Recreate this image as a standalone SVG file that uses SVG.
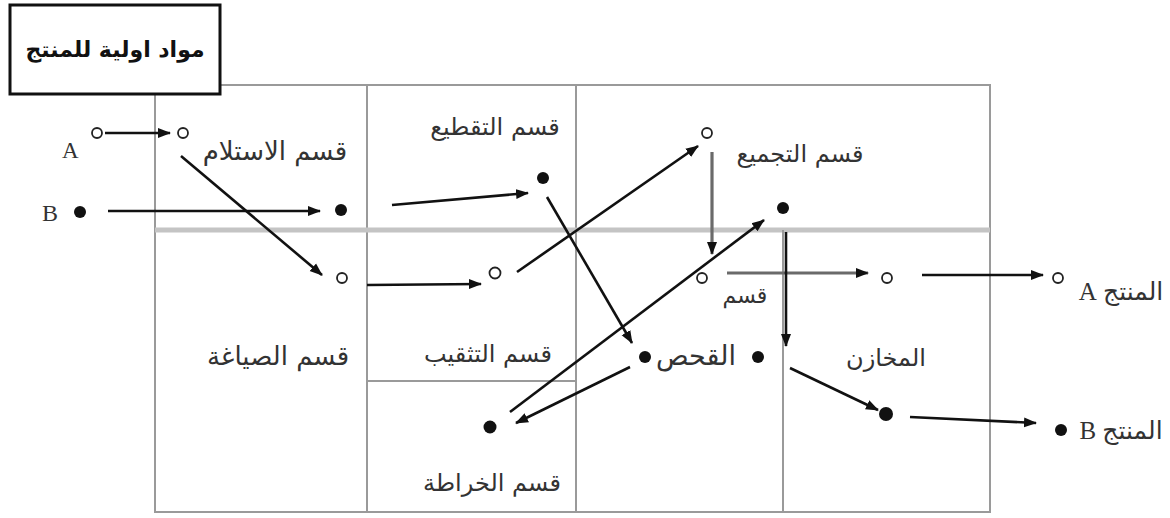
<svg xmlns="http://www.w3.org/2000/svg" width="1170" height="518" viewBox="0 0 1170 518">
<style>
.grid{stroke:#9a9a9a;stroke-width:2;fill:none}
.mid{stroke:#c4c4c4;stroke-width:5;fill:none}
.ar{font-family:"DejaVu Sans",sans-serif;font-size:24px;fill:#333;text-anchor:middle}
.lat{font-family:"Liberation Serif",serif;fill:#333}
.open{fill:#fff;stroke:#222;stroke-width:1.8}
.dot{fill:#111}
.con{stroke:#111;stroke-width:2.6;fill:none;marker-end:url(#ah)}
.grey{stroke:#6a6a6a;stroke-width:3.2}
</style>
<defs>
<marker id="ah" markerUnits="userSpaceOnUse" markerWidth="14" markerHeight="12" refX="12" refY="6" orient="auto">
<path d="M0,1 L13,6 L0,11 Z" fill="#111"/>
</marker>
</defs>
<rect width="1170" height="518" fill="#fff"/>
<g id="grid">
<rect class="grid" x="155" y="85" width="835" height="427"/>
<line class="grid" x1="367" y1="85" x2="367" y2="512"/>
<line class="grid" x1="576" y1="85" x2="576" y2="512"/>
<line class="mid" x1="155" y1="230" x2="990" y2="230"/>
<line class="grid" x1="367" y1="381" x2="576" y2="381"/>
<line class="grid" x1="783" y1="230" x2="783" y2="512"/>
</g>
<g id="title">
<rect x="10" y="5" width="210" height="89" fill="#fff" stroke="#111" stroke-width="3"/>
<text class="ar" x="115" y="57" style="font-weight:bold;font-size:22px;fill:#111">مواد اولية للمنتج</text>
</g>
<g id="labels">
<g id="reception"><text class="ar" x="275" y="160" style="font-size:26px">قسم الاستلام</text></g>
<g id="cutting"><text class="ar" x="495" y="135">قسم التقطيع</text></g>
<g id="assembly"><text class="ar" x="800" y="162">قسم التجميع</text></g>
<g id="section"><text class="ar" x="745" y="303" style="font-size:22px">قسم</text></g>
<g id="molding"><text class="ar" x="278" y="365" style="font-size:26px">قسم الصياغة</text></g>
<g id="drilling"><text class="ar" x="488" y="362">قسم التثقيب</text></g>
<g id="inspection"><text class="ar" x="696" y="365" style="font-size:27px">القحص</text></g>
<g id="stores"><text class="ar" x="886" y="366">المخازن</text></g>
<g id="turning"><text class="ar" x="492" y="491">قسم الخراطة</text></g>
<g id="productA"><text class="ar" x="1121" y="300" direction="rtl" style="font-family:'Liberation Serif','DejaVu Sans',serif;font-size:25px">المنتج A</text></g>
<g id="productB"><text class="ar" x="1121" y="439" direction="rtl" style="font-family:'Liberation Serif','DejaVu Sans',serif;font-size:25px">المنتج B</text></g>
<g id="inA"><text class="lat" x="62" y="158" font-size="23">A</text></g>
<g id="inB"><text class="lat" x="42" y="221" font-size="24">B</text></g>
</g>
<g id="points">
<g id="pA0"><circle class="open" cx="97" cy="133" r="5"/></g>
<g id="pB0"><circle class="dot" cx="80" cy="212" r="6"/></g>
<g id="pA1"><circle class="open" cx="183" cy="133" r="5"/></g>
<g id="pB1"><circle class="dot" cx="341" cy="210" r="6"/></g>
<g id="pA2"><circle class="open" cx="342" cy="278" r="5"/></g>
<g id="pB2"><circle class="dot" cx="543" cy="178" r="6"/></g>
<g id="pA3"><circle class="open" cx="495" cy="273" r="5.5"/></g>
<g id="pA4"><circle class="open" cx="707" cy="133" r="5"/></g>
<g id="pA5"><circle class="open" cx="702" cy="278" r="5"/></g>
<g id="pB3"><circle class="dot" cx="783" cy="208" r="6"/></g>
<g id="pB4"><circle class="dot" cx="645" cy="357" r="6"/></g>
<g id="pB5"><circle class="dot" cx="758" cy="357" r="6"/></g>
<g id="pB6"><circle class="dot" cx="490" cy="427" r="6.5"/></g>
<g id="pA6"><circle class="open" cx="887" cy="278" r="5"/></g>
<g id="pA7"><circle class="open" cx="1058" cy="278" r="5"/></g>
<g id="pB7"><circle class="dot" cx="886" cy="414" r="7"/></g>
<g id="pB8"><circle class="dot" cx="1061" cy="430" r="6"/></g>
</g>
<g id="connectors">
<line class="con" x1="105" y1="133" x2="170" y2="133"/>
<line class="con" x1="108" y1="211" x2="320" y2="211"/>
<line class="con" x1="181" y1="156" x2="322" y2="275"/>
<line class="con" x1="392" y1="205" x2="528" y2="193"/>
<line class="con" x1="367" y1="285" x2="481" y2="284"/>
<line class="con" x1="517" y1="272" x2="698" y2="146"/>
<line class="con" x1="547" y1="197" x2="632" y2="343"/>
<line class="con grey" x1="712" y1="152" x2="712" y2="254"/>
<line class="con" x1="510" y1="412" x2="764" y2="220"/>
<line class="con" x1="630" y1="367" x2="516" y2="423"/>
<line class="con grey" x1="727" y1="273" x2="868" y2="273"/>
<line class="con" x1="922" y1="275" x2="1043" y2="275"/>
<line class="con" x1="786" y1="232" x2="786" y2="346"/>
<line class="con" x1="790" y1="368" x2="878" y2="410"/>
<line class="con" x1="910" y1="417" x2="1036" y2="423"/>
</g>
</svg>
